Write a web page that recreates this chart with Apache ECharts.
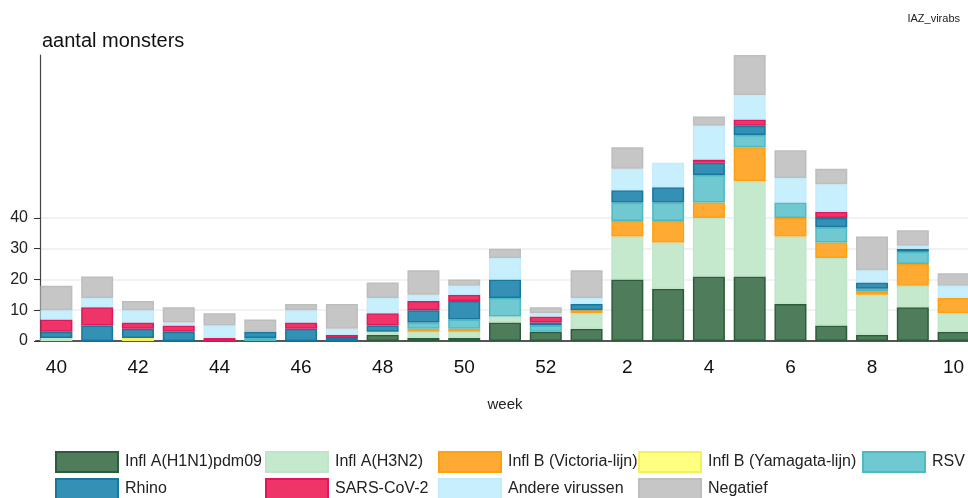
<!DOCTYPE html>
<html>
<head>
<meta charset="utf-8">
<script src="https://cdn.jsdelivr.net/npm/echarts@6/dist/echarts.min.js"></script>
<style>html,body{margin:0;padding:0;background:#fff;overflow:hidden}#c{width:974px;height:498px}</style>
</head>
<body>
<div id="c"></div>
<script>
const weeks = ['40','41','42','43','44','45','46','47','48','49','50','51','52','1','2','3','4','5','6','7','8','9','10'];
const yTickLabels = [0, 10, 20, 30, 40];
const h1n1     = [0,0,0,0,0,0,0,0,2,1,1,6,3,4,20,17,21,21,12,5,2,11,3];
const h3n2     = [1,0,0,0,0,0,0,0,1,2,2,2,0,5,14,15,19,31,22,22,13,7,6];
const victoria = [0,0,0,0,0,0,0,0,0,1,1,0,0,1,5,7,5,11,6,5,1,7,5];
const yamagata = [0,0,1,0,0,0,0,0,0,0,0,0,0,0,0,0,0,0,0,0,0,0,0];
const rsv      = [0,0,0,0,0,1,0,0,0,2,3,6,2,0,6,6,9,4,5,5,1,4,0];
const rhino    = [2,5,3,3,0,2,4,1,2,4,6,6,1,2,4,5,4,3,0,3,2,1,0];
const sars     = [4,6,2,2,1,0,2,1,4,3,2,0,2,0,0,0,1,2,0,2,0,0,0];
const andere   = [3,3,4,1,4,0,4,2,5,2,3,7,1,2,7,8,11,8,8,9,4,1,4];
const negatief = [8,7,3,5,4,4,2,8,5,8,2,3,2,9,7,0,3,13,9,5,11,5,4];

const seriesDefs = [
  {name:'Infl A(H1N1)pdm09', data:h1n1, color:'#4f7c5a', border:'#2d5c3a'},
  {name:'Infl A(H3N2)', data:h3n2, color:'#c5e9cd', border:'#bfe5c8'},
  {name:'Infl B (Victoria-lijn)', data:victoria, color:'#ffab33', border:'#ffa010'},
  {name:'Infl B (Yamagata-lijn)', data:yamagata, color:'#ffff80', border:'#f5f060'},
  {name:'RSV', data:rsv, color:'#70c9d0', border:'#4bbac5'},
  {name:'Rhino', data:rhino, color:'#3490b4', border:'#17789f'},
  {name:'SARS-CoV-2', data:sars, color:'#ee3468', border:'#e0185a'},
  {name:'Andere virussen', data:andere, color:'#c8effd', border:'#c2ecfb'},
  {name:'Negatief', data:negatief, color:'#c6c6c6', border:'#bdbdbd'}
];

const FONT = 'Liberation Sans, Arial, sans-serif';
const total = weeks.map((_, i) => seriesDefs.reduce((s, d) => s + d.data[i], 0));
const yMax = Math.max(...total);

const series = seriesDefs.map(d => ({
  name: d.name,
  type: 'bar',
  stack: 'all',
  barWidth: 32,
  xAxisIndex: 0,
  data: d.data.map(v => v === 0 ? '-' : v),
  itemStyle: {color: d.color, borderColor: d.border, borderWidth: 1.5},
  emphasis: {disabled: true}
}));

// legend grid: column x positions, row y positions
const colLeft = [55, 265, 438, 638, 862];
const rowTop = [451, 478];
const legends = seriesDefs.map((d, i) => ({
  orient: 'horizontal',
  left: colLeft[i % 5],
  top: rowTop[Math.floor(i / 5)],
  padding: 0,
  itemWidth: 62,
  itemHeight: 20,
  icon: 'rect',
  selectedMode: false,
  data: [d.name],
  textStyle: {fontFamily: FONT, fontSize: 16, color: '#222', padding: [0, 0, 0, 2]}
}));

const splitColors = [];
for (let v = 0; v <= yMax; v += 10) splitColors.push(yTickLabels.includes(v) && v > 0 ? '#e9eff3' : 'rgba(0,0,0,0)');

const chart = echarts.init(document.getElementById('c'), null, {renderer: 'canvas'});
chart.setOption({
  animation: false,
  backgroundColor: '#fff',
  title: [
    {text: 'aantal monsters', left: 37, top: 26, textStyle: {fontFamily: FONT, fontSize: 20, fontWeight: 'normal', color: '#111'}},
    {text: 'IAZ_virabs', right: 9, top: 8, textStyle: {fontFamily: FONT, fontSize: 11, fontWeight: 'normal', color: '#222'}}
  ],
  legend: legends,
  grid: {left: 36, top: 55, width: 938, height: 286, containLabel: false},
  xAxis: [
    {
      type: 'category', data: weeks,
      name: 'week', nameLocation: 'middle', nameGap: 56,
      nameTextStyle: {fontFamily: FONT, fontSize: 15, color: '#222'},
      axisLine: {lineStyle: {color: '#555', width: 2}},
      axisTick: {interval: 1, alignWithLabel: true, length: 7, lineStyle: {color: '#333', width: 1.5}},
      axisLabel: {interval: 1, fontFamily: FONT, fontSize: 19, color: '#111', margin: 17}
    },
    {
      type: 'category', data: weeks, position: 'bottom',
      axisLine: {show: false},
      axisTick: {interval: 0, alignWithLabel: true, length: 4, lineStyle: {color: '#333', width: 1.5}},
      axisLabel: {show: false}
    }
  ],
  yAxis: {
    type: 'value', min: 0, max: yMax, interval: 10, offset: -4,
    axisLine: {show: true, lineStyle: {color: '#444', width: 1.2}},
    axisTick: {show: true, length: 6, customValues: yTickLabels, lineStyle: {color: '#333'}},
    axisLabel: {customValues: yTickLabels, fontFamily: FONT, fontSize: 16, color: '#222', margin: 12,
      formatter: v => (yTickLabels.includes(v) ? String(v) : '')},
    splitLine: {show: true, lineStyle: {color: splitColors, width: 1.5}}
  },
  series: series
});
</script>
</body>
</html>
